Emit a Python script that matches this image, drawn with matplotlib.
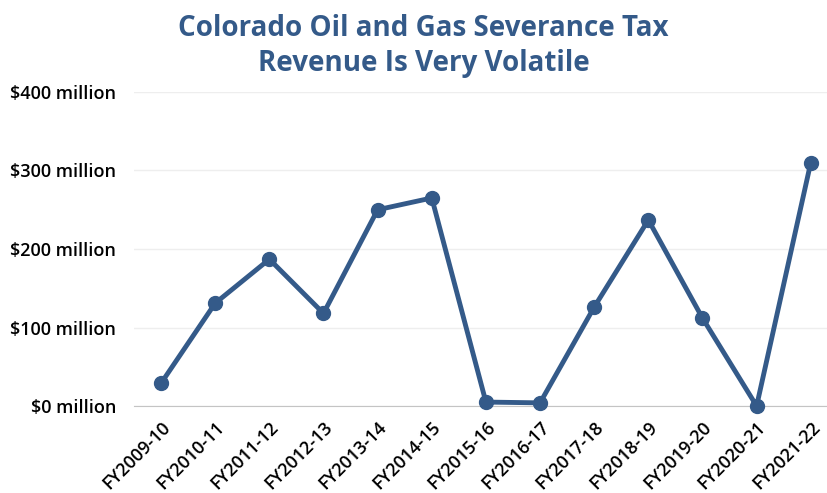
import matplotlib.pyplot as plt

# data (millions of dollars)
years = ['FY2009-10', 'FY2010-11', 'FY2011-12', 'FY2012-13', 'FY2013-14',
         'FY2014-15', 'FY2015-16', 'FY2016-17', 'FY2017-18', 'FY2018-19',
         'FY2019-20', 'FY2020-21', 'FY2021-22']
revenue = [29, 131, 187, 118, 250, 265, 5, 4, 126, 237, 112, 0, 310]
yticks = [0, 100, 200, 300, 400]

color = '#345a89'
plt.rcParams['font.family'] = ['Open Sans', 'DejaVu Sans']

fig = plt.figure(figsize=(8.27, 4.93), dpi=100)
ax = fig.add_axes([134 / 827, 87 / 493, 1 - 134 / 827, 314 / 493])

x = range(len(years))
ax.plot(x, revenue, color=color, lw=3.5, marker='o', ms=10, clip_on=False, zorder=3)

ax.set_xlim(-0.5, 12.3)
ax.set_ylim(0, 400)
ax.set_yticks(yticks)
ax.set_yticklabels(['$%d million' % v for v in yticks], fontsize=13, fontweight='semibold')
ax.set_xticks(list(x))
ax.set_xticklabels(years, rotation=45, ha='right', rotation_mode='anchor',
                   fontsize=13, fontweight='semibold')
ax.tick_params(axis='both', length=0)
ax.tick_params(axis='y', pad=13)
ax.tick_params(axis='x', pad=9)

ax.grid(axis='y', color='#eeeeee', lw=1)
ax.set_axisbelow(True)
for s in ['top', 'right', 'left']:
    ax.spines[s].set_visible(False)
ax.spines['bottom'].set_color('#c4c4c4')

fig.text(0.512, 0.972, 'Colorado Oil and Gas Severance Tax\nRevenue Is Very Volatile',
         ha='center', va='top', fontsize=20, fontweight='bold', color=color,
         linespacing=1.3)

plt.savefig('out.png', dpi=100)
